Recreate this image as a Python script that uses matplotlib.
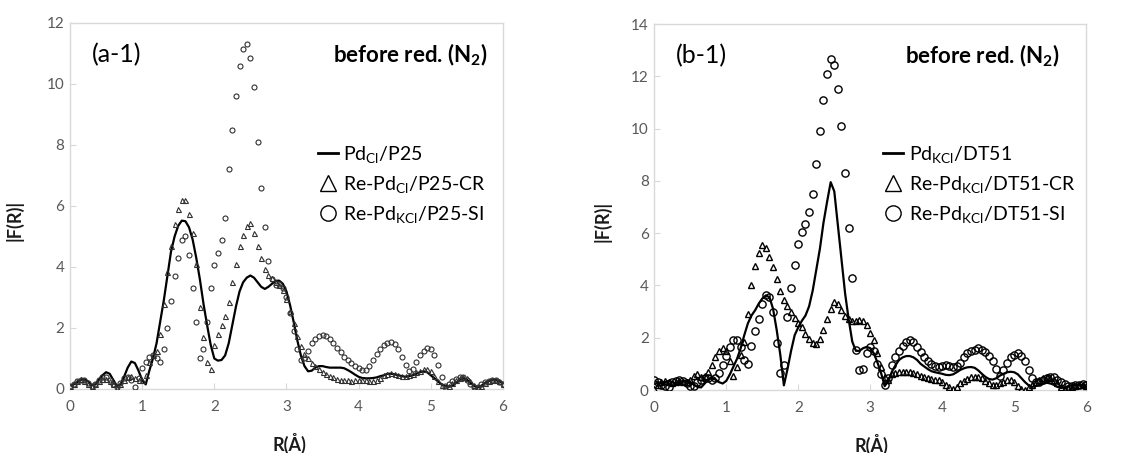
import numpy as np
import matplotlib.pyplot as plt
from matplotlib.lines import Line2D

plt.rcParams['font.family'] = ['Lato', 'DejaVu Sans']
plt.rcParams['mathtext.fontset'] = 'custom'
plt.rcParams['mathtext.rm'] = 'Lato'
plt.rcParams['mathtext.it'] = 'Lato:italic'
plt.rcParams['mathtext.bf'] = 'Lato:bold'

# R grid of the Fourier transforms (Angstrom)
r = np.linspace(0, 6, 121)

# (a-1) |F(R)| values
a_pd_cl = [
    0.10, 0.15, 0.22, 0.30, 0.32, 0.25, 0.12, 0.15, 0.30, 0.45, 0.55, 0.50, 0.30, 0.10, 0.15, 0.40, 0.70, 0.90, 0.85, 0.60,
    0.30, 0.15, 0.60, 1.00, 1.50, 2.20, 2.90, 3.70, 4.50, 5.00, 5.35, 5.52, 5.50, 5.30, 4.90, 4.30, 3.60, 2.80, 2.10, 1.45,
    1.00, 0.93, 0.95, 1.10, 1.50, 2.10, 2.70, 3.20, 3.50, 3.65, 3.72, 3.65, 3.50, 3.35, 3.28, 3.35, 3.45, 3.55, 3.55, 3.45,
    3.20, 2.75, 2.20, 1.60, 1.10, 0.75, 0.58, 0.60, 0.70, 0.75, 0.75, 0.72, 0.70, 0.70, 0.70, 0.70, 0.68, 0.62, 0.55, 0.47,
    0.40, 0.36, 0.35, 0.35, 0.36, 0.38, 0.42, 0.45, 0.50, 0.50, 0.48, 0.45, 0.42, 0.40, 0.42, 0.45, 0.50, 0.55, 0.58, 0.55,
    0.45, 0.35, 0.25, 0.15, 0.10, 0.08, 0.10, 0.20, 0.30, 0.35, 0.30, 0.20, 0.10, 0.05, 0.10, 0.20, 0.25, 0.30, 0.30, 0.25,
    0.20]
a_re_cl_cr = [
    0.10, 0.18, 0.25, 0.33, 0.27, 0.15, 0.11, 0.18, 0.27, 0.33, 0.33, 0.25, 0.16, 0.03, 0.15, 0.30, 0.38, 0.44, 0.36, 0.28,
    0.28, 0.45, 0.90, 1.10, 1.25, 1.80, 2.80, 3.85, 4.70, 5.40, 5.90, 6.20, 6.20, 5.75, 5.10, 4.10, 2.70, 1.70, 0.90, 0.65,
    1.45, 1.80, 2.10, 2.40, 2.85, 3.50, 4.10, 4.70, 5.05, 5.35, 5.45, 5.10, 4.70, 4.30, 3.95, 3.75, 3.65, 3.50, 3.42, 3.25,
    2.95, 2.55, 2.15, 1.75, 1.40, 1.15, 1.00, 0.85, 0.75, 0.65, 0.56, 0.50, 0.43, 0.38, 0.34, 0.31, 0.29, 0.28, 0.27, 0.28,
    0.30, 0.31, 0.30, 0.27, 0.26, 0.30, 0.37, 0.45, 0.50, 0.52, 0.50, 0.46, 0.42, 0.42, 0.45, 0.50, 0.55, 0.60, 0.65, 0.66,
    0.58, 0.42, 0.26, 0.12, 0.05, 0.10, 0.20, 0.28, 0.35, 0.38, 0.35, 0.25, 0.12, 0.05, 0.10, 0.20, 0.26, 0.30, 0.30, 0.25,
    0.15]
a_re_kcl_si = [
    0.10, 0.15, 0.25, 0.30, 0.28, 0.20, 0.10, 0.15, 0.28, 0.38, 0.40, 0.30, 0.15, 0.05, 0.20, 0.35, 0.40, 0.30, 0.05, 0.35,
    0.70, 0.90, 1.05, 1.10, 1.00, 0.88, 1.30, 2.00, 2.90, 3.70, 4.30, 4.90, 5.00, 4.40, 3.30, 2.20, 1.00, 1.30, 2.20, 3.30,
    4.05, 4.45, 4.90, 5.60, 7.20, 8.50, 9.60, 10.60, 11.15, 11.30, 10.85, 9.90, 8.10, 6.60, 5.30, 4.20, 3.60, 3.40, 3.45, 3.30,
    3.00, 2.50, 1.90, 1.30, 0.95, 1.00, 1.25, 1.50, 1.65, 1.75, 1.78, 1.75, 1.65, 1.50, 1.35, 1.20, 1.05, 0.95, 0.85, 0.75,
    0.68, 0.62, 0.62, 0.75, 0.95, 1.15, 1.30, 1.45, 1.52, 1.55, 1.48, 1.30, 1.05, 0.80, 0.60, 0.65, 0.90, 1.10, 1.25, 1.33,
    1.30, 1.10, 0.80, 0.40, 0.10, 0.15, 0.25, 0.32, 0.38, 0.38, 0.30, 0.15, 0.05, 0.08, 0.15, 0.22, 0.25, 0.28, 0.28, 0.22,
    0.15]

# (b-1)
b_pd_kcl = [
    0.35, 0.30, 0.25, 0.30, 0.35, 0.30, 0.25, 0.30, 0.35, 0.35, 0.30, 0.20, 0.12, 0.10, 0.25, 0.40, 0.45, 0.40, 0.30, 0.25,
    0.35, 0.60, 0.90, 1.20, 1.60, 2.10, 2.55, 2.85, 3.05, 3.30, 3.50, 3.62, 3.55, 3.10, 2.30, 1.35, 0.18, 0.80, 1.50, 2.10,
    2.40, 2.65, 2.85, 3.20, 3.80, 4.60, 5.40, 6.40, 7.20, 7.95, 7.60, 6.30, 5.00, 3.70, 2.70, 1.85, 1.50, 1.50, 1.60, 1.65,
    1.60, 1.40, 1.05, 0.65, 0.15, 0.35, 0.70, 0.95, 1.15, 1.25, 1.30, 1.30, 1.25, 1.15, 1.00, 0.90, 0.80, 0.72, 0.68, 0.65,
    0.62, 0.58, 0.57, 0.60, 0.68, 0.77, 0.83, 0.87, 0.88, 0.85, 0.75, 0.62, 0.50, 0.42, 0.40, 0.45, 0.55, 0.62, 0.68, 0.70,
    0.68, 0.60, 0.45, 0.30, 0.18, 0.12, 0.15, 0.20, 0.25, 0.28, 0.25, 0.20, 0.12, 0.08, 0.10, 0.15, 0.18, 0.20, 0.20, 0.18,
    0.15]
b_re_kcl_cr = [
    0.05, 0.20, 0.30, 0.35, 0.30, 0.25, 0.30, 0.35, 0.30, 0.30, 0.40, 0.55, 0.60, 0.50, 0.55, 0.70, 0.95, 1.25, 1.50, 1.62,
    1.50, 1.10, 0.55, 0.90, 1.35, 1.85, 2.90, 4.00, 4.75, 5.25, 5.55, 5.45, 5.10, 4.70, 4.25, 3.80, 3.45, 3.20, 3.00, 2.75,
    2.55, 2.40, 2.15, 1.95, 1.78, 1.75, 1.95, 2.30, 2.70, 3.10, 3.38, 3.30, 3.05, 2.85, 2.70, 2.65, 2.65, 2.68, 2.65, 2.50,
    2.20, 1.90, 1.40, 0.90, 0.50, 0.40, 0.60, 0.65, 0.68, 0.70, 0.70, 0.70, 0.65, 0.60, 0.55, 0.50, 0.45, 0.42, 0.40, 0.38,
    0.30, 0.20, 0.10, 0.05, 0.12, 0.25, 0.35, 0.42, 0.48, 0.50, 0.50, 0.45, 0.35, 0.25, 0.20, 0.20, 0.25, 0.32, 0.38, 0.38,
    0.30, 0.15, 0.05, 0.02, 0.10, 0.20, 0.30, 0.40, 0.45, 0.48, 0.45, 0.38, 0.25, 0.12, 0.05, 0.08, 0.12, 0.15, 0.18, 0.18,
    0.15]
b_re_kcl_si = [
    0.40, 0.30, 0.20, 0.15, 0.10, 0.30, 0.35, 0.38, 0.35, 0.25, 0.15, 0.15, 0.30, 0.40, 0.45, 0.45, 0.40, 0.45, 0.65, 0.95,
    1.30, 1.65, 1.90, 1.92, 1.65, 1.15, 1.00, 1.70, 2.25, 2.70, 3.30, 3.65, 3.55, 3.00, 1.80, 0.65, 0.95, 2.80, 3.90, 4.80,
    5.60, 6.05, 6.35, 6.80, 7.50, 8.65, 9.90, 11.10, 12.10, 12.65, 12.45, 11.50, 10.10, 8.30, 6.20, 4.30, 1.55, 0.75, 0.80, 1.40,
    1.65, 1.50, 1.00, 0.60, 0.20, 0.45, 0.95, 1.25, 1.50, 1.70, 1.85, 1.90, 1.82, 1.65, 1.45, 1.25, 1.10, 1.00, 0.92, 0.90,
    0.92, 0.95, 0.92, 0.88, 0.92, 1.05, 1.25, 1.40, 1.50, 1.55, 1.60, 1.55, 1.45, 1.30, 1.10, 0.80, 0.55, 0.75, 1.05, 1.25,
    1.35, 1.40, 1.30, 1.10, 0.75, 0.45, 0.30, 0.32, 0.40, 0.45, 0.50, 0.48, 0.40, 0.30, 0.22, 0.15, 0.15, 0.18, 0.20, 0.22,
    0.20]

labels_a = ['Pd$_{\\mathregular{Cl}}$/P25', 'Re-Pd$_{\\mathregular{Cl}}$/P25-CR',
            'Re-Pd$_{\\mathregular{KCl}}$/P25-SI']
labels_b = ['Pd$_{\\mathregular{KCl}}$/DT51', 'Re-Pd$_{\\mathregular{KCl}}$/DT51-CR',
            'Re-Pd$_{\\mathregular{KCl}}$/DT51-SI']

GRID = '#d9d9d9'
TICK = '#595959'
LABEL = '#1a1a1a'


def style_axes(ax, ymax):
    ax.set_xlim(0, 6)
    ax.set_ylim(0, ymax)
    ax.set_xticks(range(7))
    ax.set_yticks(range(0, ymax + 1, 2))
    for s in ax.spines.values():
        s.set_color(GRID)
        s.set_linewidth(1)
    ax.tick_params(axis='both', direction='in', length=4, color=GRID,
                   labelcolor=TICK, labelsize=11)
    ax.tick_params(axis='x', pad=8)
    ax.tick_params(axis='y', pad=4)
    ax.set_xlabel('R(Å)', fontsize=13, fontweight='bold', color=LABEL)
    ax.set_ylabel('|F(R)|', fontsize=13, fontweight='bold', color=LABEL)


def draw_panel(ax, line, tri, circ, ms_tri, ms_circ, mec, mew):
    ax.plot(r, line, color='black', lw=1.6, zorder=2)
    ax.plot(r, tri, ls='none', marker='^', ms=ms_tri, mfc='none', mec=mec, mew=mew, zorder=3)
    ax.plot(r, circ, ls='none', marker='o', ms=ms_circ, mfc='none', mec=mec, mew=mew, zorder=3)


def add_legend(ax, labels, x, y):
    handles = [Line2D([], [], color='black', lw=2),
               Line2D([], [], ls='none', marker='^', ms=11, mfc='none', mec='black', mew=1),
               Line2D([], [], ls='none', marker='o', ms=11, mfc='none', mec='black', mew=1)]
    ax.legend(handles, labels, loc='upper left', bbox_to_anchor=(x, y), frameon=False,
              fontsize=14, handlelength=1.0, handletextpad=0.3, labelspacing=0.45,
              borderpad=0, borderaxespad=0)


fig = plt.figure(figsize=(11.32, 4.53), dpi=100)
ax1 = fig.add_axes([0.0618, 0.1413, 0.3825, 0.808])
ax2 = fig.add_axes([0.578, 0.139, 0.3816, 0.808])

draw_panel(ax1, a_pd_cl, a_re_cl_cr, a_re_kcl_si, 3.6, 3.6, '#303030', 0.8)
style_axes(ax1, 12)
add_legend(ax1, labels_a, 0.573, 0.669)
ax1.text(0.051, 0.913, '(a-1)', transform=ax1.transAxes, fontsize=18, va='center', ha='left')
ax1.text(0.965, 0.913, 'before red. (N$_\\mathbf{2}$)', transform=ax1.transAxes, fontsize=16,
         fontweight='bold', va='center', ha='right')
ax1.yaxis.set_label_coords(-0.108, 0.46)
ax1.xaxis.set_label_coords(0.508, -0.12)

draw_panel(ax2, b_pd_kcl, b_re_kcl_cr, b_re_kcl_si, 4.8, 5.2, 'black', 1.0)
style_axes(ax2, 14)
add_legend(ax2, labels_b, 0.530, 0.672)
ax2.text(0.051, 0.913, '(b-1)', transform=ax2.transAxes, fontsize=18, va='center', ha='left')
ax2.text(0.9375, 0.913, 'before red. (N$_\\mathbf{2}$)', transform=ax2.transAxes, fontsize=16,
         fontweight='bold', va='center', ha='right')
ax2.yaxis.set_label_coords(-0.098, 0.46)
ax2.xaxis.set_label_coords(0.502, -0.12)

fig.savefig('out.png', dpi=100)
